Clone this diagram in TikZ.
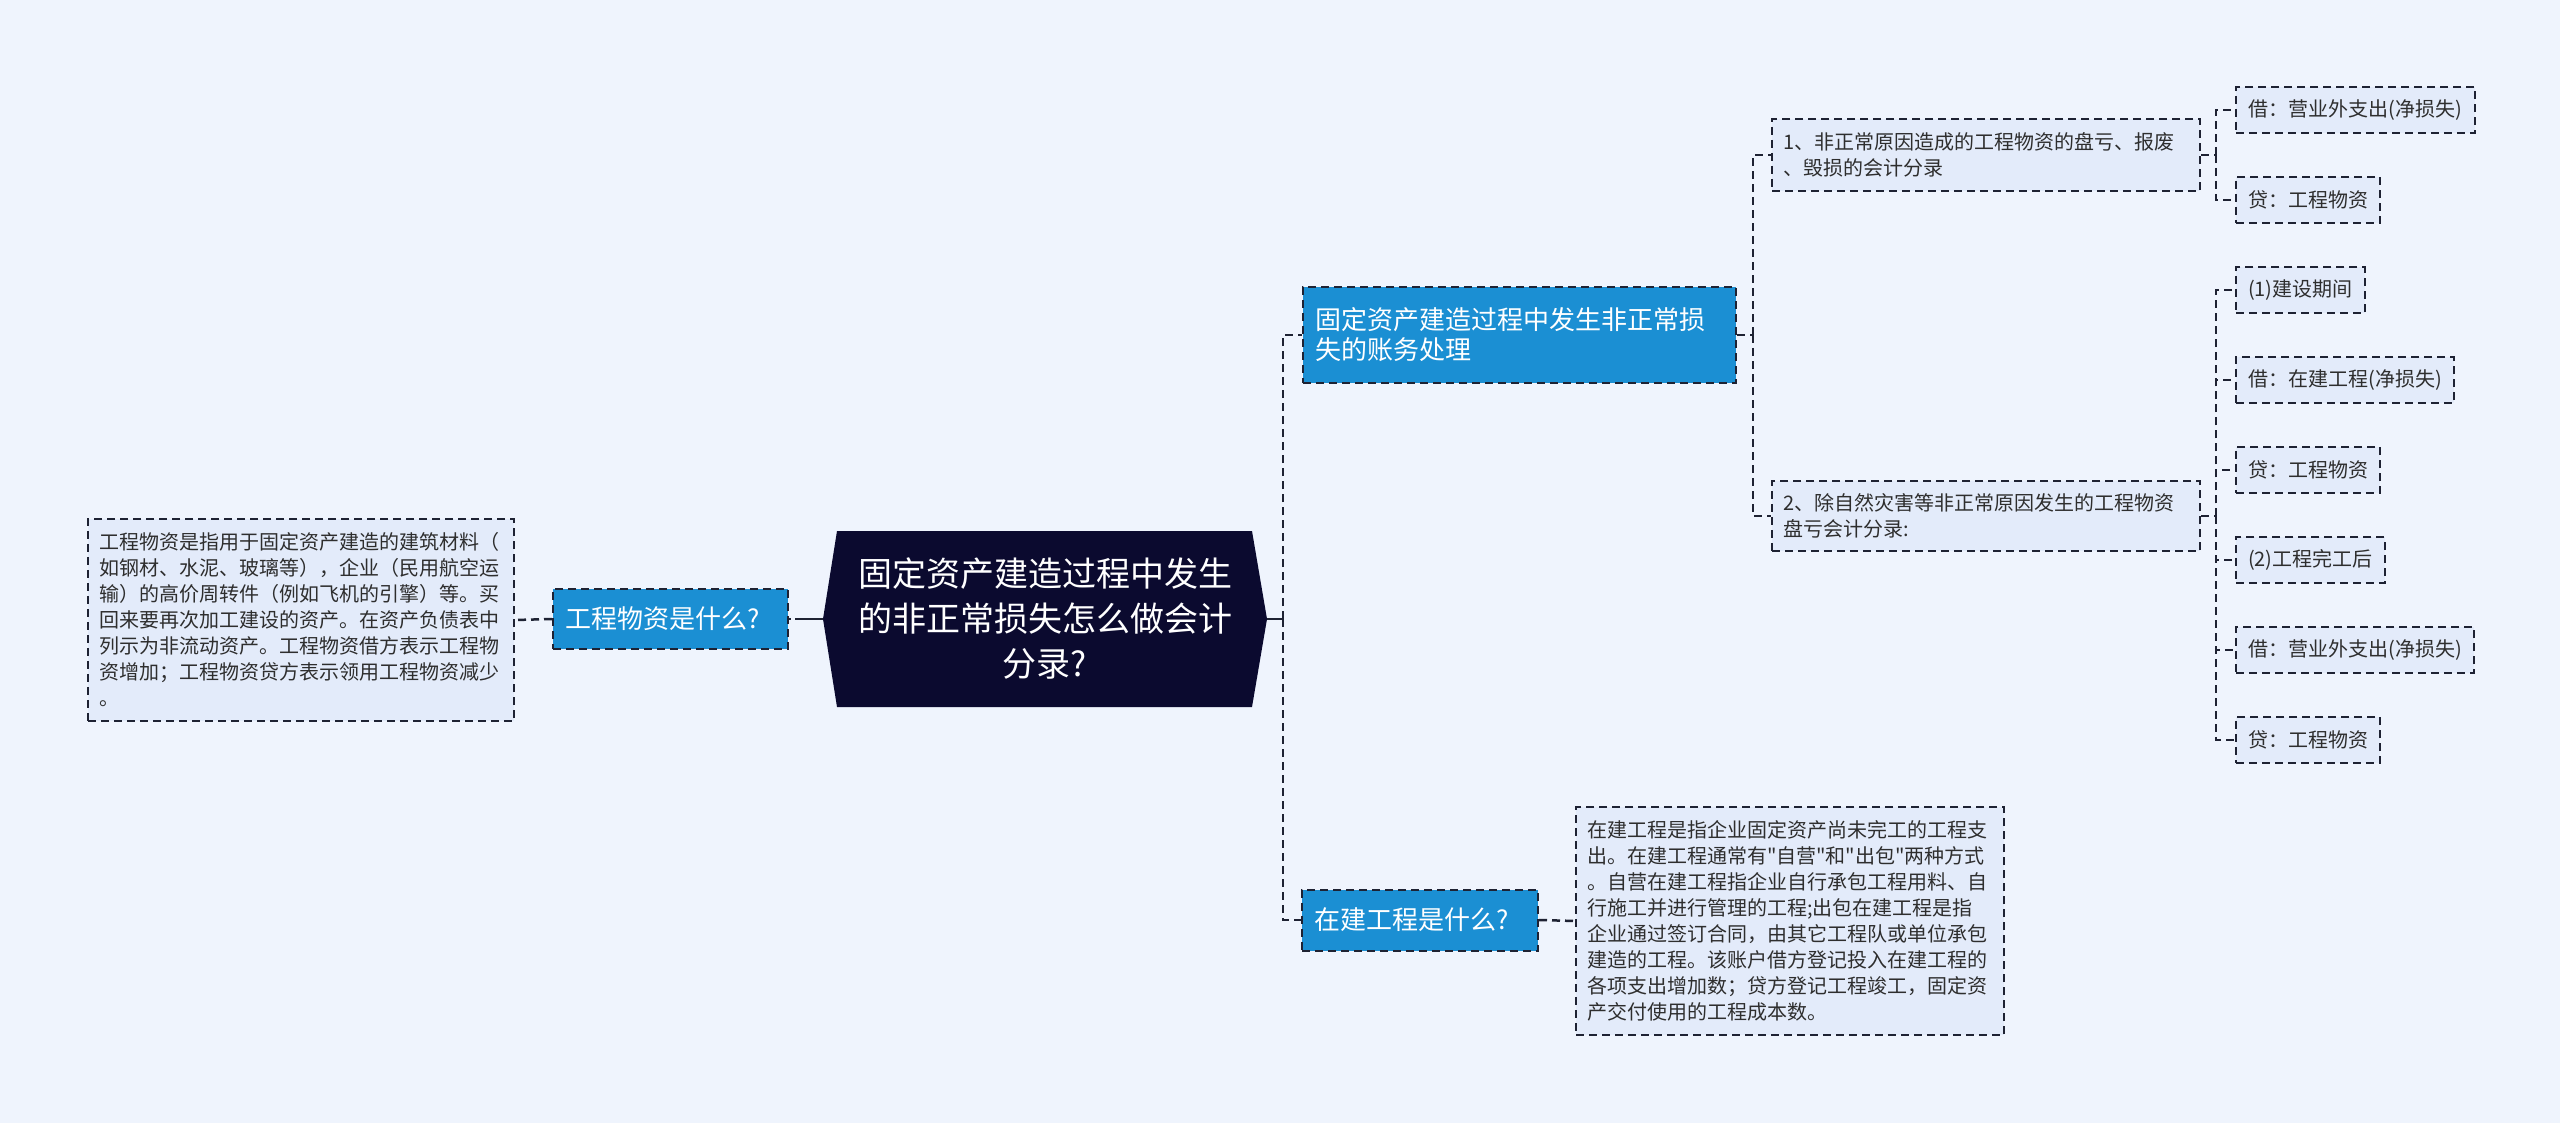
\documentclass[tikz,border=0pt]{standalone}
\usepackage{fontspec}
\setmainfont{Noto Sans CJK SC}[Ligatures=TeXOff]
\definecolor{bgcol}{HTML}{EFF4FD}
\definecolor{boxcol}{HTML}{E3EBFA}
\definecolor{bluecol}{HTML}{1B8FD3}
\definecolor{rootcol}{HTML}{0B0A2F}
\definecolor{linecol}{HTML}{1E2233}
\definecolor{txtcol}{HTML}{2E2E2E}
\tikzset{
  lightbox/.style={draw=linecol, line width=2pt, dash pattern=on 8pt off 5pt, fill=boxcol,
    text=txtcol, font=\fontsize{20}{26}\selectfont, align=left, inner xsep=11pt, inner ysep=0pt, anchor=west},
  leafbox/.style={draw=linecol, line width=2pt, dash pattern=on 8pt off 5pt, fill=boxcol,
    text=txtcol, font=\fontsize{20}{26}\selectfont, inner xsep=12pt, inner ysep=0pt, anchor=west, minimum height=46pt},
  bluebox/.style={draw=linecol, line width=2pt, dash pattern=on 8pt off 5pt, fill=bluecol,
    text=white, font=\fontsize{26}{30}\selectfont, align=left, inner xsep=12pt, inner ysep=0pt, anchor=west},
  rootnode/.style={minimum width=444pt, minimum height=176pt, inner sep=0pt, text=white,
    font=\fontsize{34}{45}\selectfont, align=center},
  con/.style={draw=linecol, line width=2.5pt, dash pattern=on 8pt off 5pt},
  solidcon/.style={draw=linecol, line width=2.5pt},
}
\begin{document}
\begin{tikzpicture}[x=1pt,y=-1pt]
\useasboundingbox (0,0) rectangle (2560,1123);
\fill[bgcol] (0,0) rectangle (2560,1123);

% root
\fill[rootcol] (823,619) -- (837,531) -- (1252,531) -- (1267,619) -- (1252,707) -- (837,707) -- cycle;
\node[rootnode] (root) at (1045,619) {固定资产建造过程中发生\\的非正常损失怎么做会计\\分录?};

% left side
\node[bluebox, text width=211pt, minimum height=60pt] (lq) at (552,619) {工程物资是什么?};
\node[lightbox, text width=404pt, minimum height=202pt] (ltext) at (87,620) {工程物资是指用于固定资产建造的建筑材料（\\如钢材、水泥、玻璃等），企业（民用航空运\\输）的高价周转件（例如飞机的引擎）等。买\\回来要再次加工建设的资产。在资产负债表中\\列示为非流动资产。工程物资借方表示工程物\\资增加；工程物资贷方表示领用工程物资减少\\。};

% right side first level
\node[bluebox, text width=409pt, minimum height=96pt] (top) at (1302,335) {固定资产建造过程中发生非正常损\\失的账务处理};
\node[bluebox, text width=212pt, minimum height=61pt] (bot) at (1301,920) {在建工程是什么?};
\node[lightbox, text width=406pt, minimum height=228pt] (rtext) at (1575,921) {在建工程是指企业固定资产尚未完工的工程支\\出。在建工程通常有"自营"和"出包"两种方式\\。自营在建工程指企业自行承包工程用料、自\\行施工并进行管理的工程;出包在建工程是指\\企业通过签订合同，由其它工程队或单位承包\\建造的工程。该账户借方登记投入在建工程的\\各项支出增加数；贷方登记工程竣工，固定资\\产交付使用的工程成本数。};

% second level
\node[lightbox, text width=406pt, minimum height=72pt] (n1) at (1771,155) {1、非正常原因造成的工程物资的盘亏、报废\\、毁损的会计分录};
\node[lightbox, text width=406pt, minimum height=70pt] (n2) at (1771,516) {2、除自然灾害等非正常原因发生的工程物资\\盘亏会计分录:};

% leaves
\node[leafbox, minimum width=239pt] (a1) at (2235,110) {借：营业外支出(净损失)};
\node[leafbox, minimum width=143pt] (a2) at (2235,200) {贷：工程物资};
\node[leafbox, minimum width=124pt] (b1) at (2235,290) {(1)建设期间};
\node[leafbox, minimum width=218pt] (b2) at (2235,380) {借：在建工程(净损失)};
\node[leafbox, minimum width=143pt] (b3) at (2235,470) {贷：工程物资};
\node[leafbox, minimum width=148pt] (b4) at (2235,560) {(2)工程完工后};
\node[leafbox, minimum width=238pt] (b5) at (2235,650) {借：营业外支出(净损失)};
\node[leafbox, minimum width=143pt] (b6) at (2235,740) {贷：工程物资};

% connectors
\coordinate (t0) at (1283,619);
\coordinate (t1) at (1753,335);
\coordinate (t2) at (2216,155);
\coordinate (t3) at (2216,516);

\draw[solidcon, dash pattern=on 28pt off 4pt] (root.west) -- (lq.east);
\draw[con] (lq.west) -- (ltext.east);
\draw[solidcon] (root.east) -- (t0);
\draw[con] (t0) |- (top.west);
\draw[con] (t0) |- (bot.west);
\draw[con] (bot.east) -- (rtext.west);
\draw[con] (top.east) -- (t1);
\draw[con] (t1) |- (n1.west);
\draw[con] (t1) |- (n2.west);
\draw[con] (n1.east) -- (t2);
\draw[con] (t2) |- (a1.west);
\draw[con] (t2) |- (a2.west);
\draw[con] (n2.east) -- (t3);
\draw[con] (t3) |- (b1.west);
\draw[con] (t3) |- (b2.west);
\draw[con] (t3) |- (b3.west);
\draw[con] (t3) |- (b4.west);
\draw[con] (t3) |- (b5.west);
\draw[con] (t3) |- (b6.west);
\end{tikzpicture}
\end{document}
